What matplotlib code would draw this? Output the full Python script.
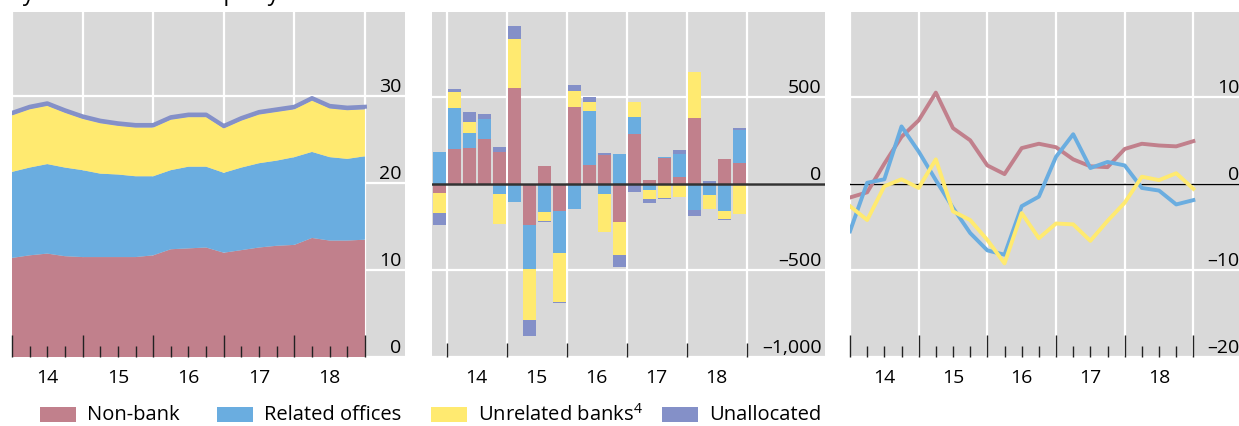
import numpy as np
import matplotlib.pyplot as plt
from matplotlib.patches import Rectangle
from matplotlib.transforms import blended_transform_factory

plt.rcParams['font.family'] = ['Open Sans', 'DejaVu Sans']
plt.rcParams['font.size'] = 14
plt.rcParams['mathtext.fontset'] = 'custom'
plt.rcParams['mathtext.rm'] = 'Open Sans'
plt.rcParams['mathtext.default'] = 'rm'

# Quarter-end index: 0 = end-2013 Q4 ... 20 = end-2018 Q4
quarters = np.arange(21)
years = ['14', '15', '16', '17', '18']

# Left panel: amounts outstanding, stacked layers
stock_nonbank = [11.4, 11.7, 11.9, 11.6, 11.5, 11.5, 11.5, 11.5, 11.7, 12.4, 12.5,
                 12.6, 12.0, 12.3, 12.6, 12.8, 12.9, 13.7, 13.4, 13.4, 13.5]
stock_related = [9.9, 10.1, 10.3, 10.2, 10.0, 9.6, 9.5, 9.3, 9.1, 9.1, 9.4,
                 9.3, 9.2, 9.5, 9.7, 9.8, 10.1, 9.9, 9.6, 9.4, 9.6]
stock_unrelated = [6.5, 6.7, 6.7, 6.3, 5.9, 5.8, 5.6, 5.6, 5.6, 5.8, 5.7,
                   5.7, 5.1, 5.4, 5.6, 5.6, 5.5, 5.9, 5.6, 5.6, 5.4]
stock_unalloc = [0.3, 0.3, 0.3, 0.3, 0.3, 0.3, 0.3, 0.3, 0.3, 0.3, 0.3,
                 0.3, 0.3, 0.3, 0.3, 0.3, 0.3, 0.3, 0.3, 0.3, 0.3]

# Middle panel: quarterly flows
flow_nonbank = [-55, 199, 205, 259, 182, 551, -240, 101, -159, 441, 108,
                164, -222, 286, 20, 145, 40, 378, 0, 141, 120]
flow_related = [182, 237, 87, 113, -60, -107, -254, -164, -242, -147, 310,
                -60, 170, 98, -38, 8, 131, -153, -66, -159, 189]
flow_unrelated = [-115, 92, 63, -5, -173, 283, -294, -52, -283, 92, 52,
                  -217, -190, 87, -52, -84, -78, 265, -81, -46, -176]
flow_unalloc = [-69, 17, 58, 29, 29, 75, -92, -6, -6, 35, 29,
                12, -69, -46, -23, -6, 23, -35, 13, -6, 12]

# Right panel: growth rates
growth_nonbank = [-1.6, -1.0, 2.3, 5.4, 7.3, 10.5, 6.4, 5.0, 2.1, 1.1, 4.1,
                  4.6, 4.2, 2.8, 2.0, 1.9, 4.0, 4.6, 4.4, 4.3, 4.9]
growth_related = [-5.5, 0.1, 0.5, 6.6, 3.7, 0.4, -2.8, -5.7, -7.7, -8.2, -2.6,
                  -1.5, 3.1, 5.7, 1.8, 2.5, 2.1, -0.5, -0.8, -2.4, -1.9]
growth_unrelated = [-2.6, -4.2, -0.3, 0.5, -0.5, 2.8, -3.2, -4.2, -6.5, -9.2, -3.4,
                    -6.3, -4.6, -4.7, -6.6, -4.3, -2.2, 0.8, 0.4, 1.2, -0.6]

labels = ['Non-bank', 'Related offices', 'Unrelated banks$^{4}$', 'Unallocated']
colors = ['#C1808C', '#6AADE0', '#FFEA70', '#8490C8']
bg = '#D9D9D9'

fig = plt.figure(figsize=(12.39, 4.26), dpi=100)
W, H = 1239, 426


def make_axes(left_px):
    return fig.add_axes([left_px / W, (H - 357) / H, 393 / W, 345 / H])


def style(ax, xlim, ylim, yticks, ylabels, major_len, minor=True):
    ax.set_facecolor(bg)
    ax.set_axisbelow(False)
    for s in ax.spines.values():
        s.set_visible(False)
    ax.set_xlim(*xlim)
    ax.set_ylim(*ylim)
    ax.set_xticks(np.arange(0, 21, 4))
    if minor:
        ax.set_xticks(quarters, minor=True)
    ax.tick_params(axis='x', which='major', direction='in', length=major_len,
                   width=1, color='#222222', labelbottom=False)
    ax.tick_params(axis='x', which='minor', direction='in', length=8,
                   width=1, color='#222222', labelbottom=False)
    ax.yaxis.tick_right()
    ax.set_yticks(yticks)
    ax.set_yticklabels(ylabels)
    ax.tick_params(axis='y', length=0, pad=-2.4)
    for lbl in ax.get_yticklabels():
        lbl.set_ha('right')
        lbl.set_va('bottom')
    # white grid behind the data, ticks stay on top
    for xv in np.arange(0, 21, 4):
        ax.axvline(xv, color='white', lw=1.6, zorder=1)
    for yv in yticks:
        ax.axhline(yv, color='white', lw=1.6, zorder=1)
    tr = blended_transform_factory(ax.transData, ax.transAxes)
    for i, yr in enumerate(years):
        ax.text(2 + 4 * i, -0.062, yr, transform=tr, ha='center', va='center')


# Left panel
ax1 = make_axes(12)
ax1.stackplot(quarters, stock_nonbank, stock_related, stock_unrelated, stock_unalloc,
              colors=colors, lw=0, zorder=2)
total = (np.array(stock_nonbank) + np.array(stock_related)
         + np.array(stock_unrelated) + np.array(stock_unalloc))
ax1.plot(quarters, total, color=colors[3], lw=2.9, zorder=2.2)
style(ax1, (0, 22.27), (0, 39.7), [0, 10, 20, 30], ['0', '10', '20', '30'], 16)

# Middle panel
ax2 = make_axes(432)
xb = quarters - 0.5
pos_base = np.zeros(len(quarters))
neg_base = np.zeros(len(quarters))
for vals, c in zip([flow_nonbank, flow_related, flow_unrelated, flow_unalloc], colors):
    v = np.array(vals, dtype=float)
    pos = np.where(v > 0, v, 0)
    neg = np.where(v < 0, v, 0)
    ax2.bar(xb, pos, bottom=pos_base, width=0.87, color=c, lw=0, zorder=2)
    ax2.bar(xb, neg, bottom=neg_base, width=0.87, color=c, lw=0, zorder=2)
    pos_base += pos
    neg_base += neg
style(ax2, (-0.98, 25.22), (-1000, 990), [-1000, -500, 0, 500],
      ['\u20131,000', '\u2013500', '0', '500'], 10, minor=False)
ax2.axhline(0, color='#333333', lw=1.8, zorder=4)

# Right panel
ax3 = make_axes(850)
for vals, c in zip([growth_nonbank, growth_related, growth_unrelated], colors):
    ax3.plot(quarters, vals, color=c, lw=2.8, zorder=3)
style(ax3, (0, 22.89), (-20, 19.8), [-20, -10, 0, 10],
      ['\u201320', '\u201310', '0', '10'], 16)
ax3.axhline(0, color='black', lw=1, zorder=2)

fig.text(8 / W, 1 - 0.5 / H, 'By sector of counterparty', va='baseline', ha='left',
         fontsize=16.5)

# Legend laid out like the original: swatch, then label
key_left = [40, 217, 431, 662]
for xl, lab, c in zip(key_left, labels, colors):
    fig.patches.append(Rectangle((xl / W, (H - 422) / H), 36 / W, 15 / H,
                                 transform=fig.transFigure, color=c, lw=0))
    fig.text((xl + 47) / W, (H - 414.5) / H, lab, va='center', ha='left', fontsize=14.5)

fig.savefig('out.png', dpi=100)
